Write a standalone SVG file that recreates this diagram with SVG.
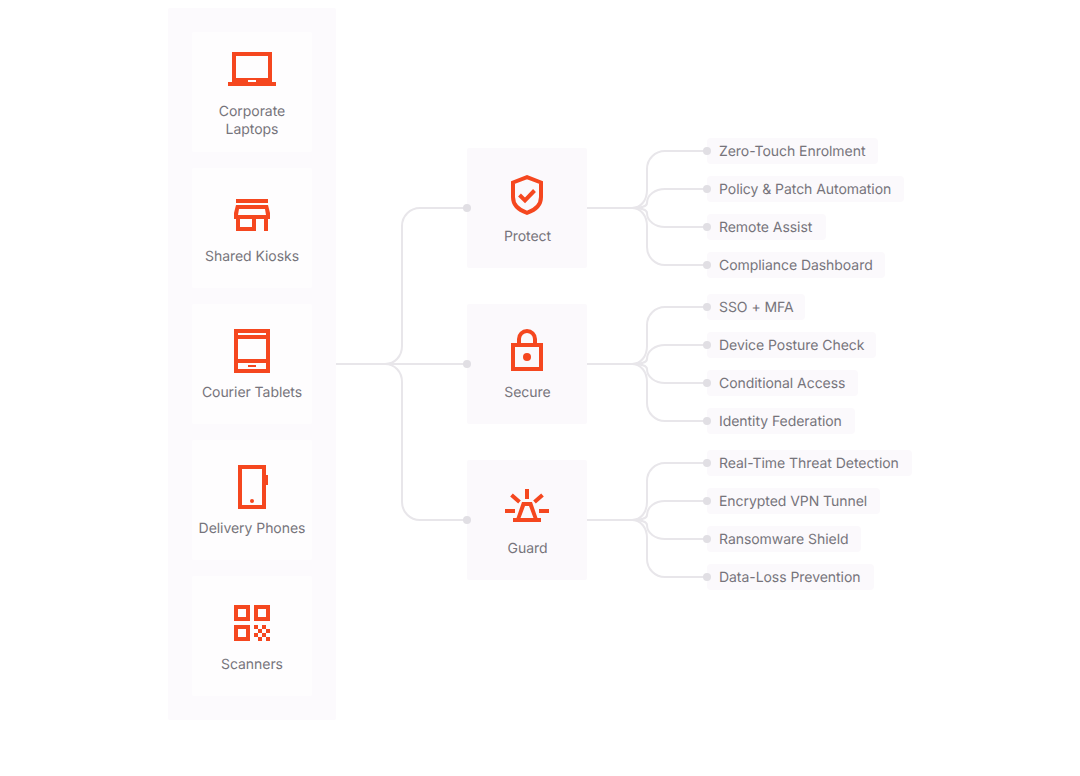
<svg xmlns="http://www.w3.org/2000/svg" width="1080" height="776" viewBox="0 0 1080 776">
<style>
text{font-family:Inter,"Liberation Sans",sans-serif;font-size:14px;fill:#76747b;text-anchor:middle;text-rendering:geometricPrecision;letter-spacing:-0.05px}
.pl text{text-anchor:start}
.card{fill:#fefdfe}
.mid{fill:#fbf9fc}
.pill{fill:#fbf9fc}
.i{fill:#f5471f}
.o{fill:none;stroke:#f5471f;stroke-width:4}
.c{fill:none;stroke:#e8e6ea;stroke-width:2}
.d{fill:#e1dfe4}
</style>
<rect id="panel" x="168" y="8" width="168" height="712" rx="2" fill="#fcfafd"/>
<g id="connectors">
<path class="c" d="M336 364H385"/>
<path class="c" d="M385 364H467"/>
<path class="c" d="M385 364C395 364 402 356 402 346V226C402 216 410 208 420 208H467"/>
<path class="c" d="M385 364C395 364 402 372 402 382V502C402 512 410 520 420 520H467"/>
<path class="c" d="M587 208H632"/><path class="c" d="M632 208C641 208 647 200 647 190V169C647 159 655 151 665 151H707"/><path class="c" d="M632 208C641 208 647 206 647 203C647 195 655 189 665 189H707"/><path class="c" d="M632 208C641 208 647 210 647 213C647 221 655 227 665 227H707"/><path class="c" d="M632 208C641 208 647 216 647 226V247C647 257 655 265 665 265H707"/>
<path class="c" d="M587 364H632"/><path class="c" d="M632 364C641 364 647 356 647 346V325C647 315 655 307 665 307H707"/><path class="c" d="M632 364C641 364 647 362 647 359C647 351 655 345 665 345H707"/><path class="c" d="M632 364C641 364 647 366 647 369C647 377 655 383 665 383H707"/><path class="c" d="M632 364C641 364 647 372 647 382V403C647 413 655 421 665 421H707"/>
<path class="c" d="M587 520H632"/><path class="c" d="M632 520C641 520 647 512 647 502V481C647 471 655 463 665 463H707"/><path class="c" d="M632 520C641 520 647 518 647 515C647 507 655 501 665 501H707"/><path class="c" d="M632 520C641 520 647 522 647 525C647 533 655 539 665 539H707"/><path class="c" d="M632 520C641 520 647 528 647 538V559C647 569 655 577 665 577H707"/>
</g>
<g id="laptops"><rect class="card" x="192" y="32" width="120" height="120" rx="2"/>
<path class="i" fill-rule="evenodd" d="M232 52H272V82H276V86H228V82H232ZM236 56V78H268V56ZM248 80V82H256V80Z"/>
<text x="252" y="116">Corporate</text><text x="252" y="134">Laptops</text></g>
<g id="kiosks"><rect class="card" x="192" y="168" width="120" height="120" rx="2"/>
<path class="i" d="M236 199H268V203H236Z"/>
<path class="i" fill-rule="evenodd" d="M236 205H268L270 213V219H268V231H264V219H256V231H236V219H234V213ZM239 209L238 215H266L265 209ZM240 219V227H252V219Z"/>
<text x="252" y="261">Shared Kiosks</text></g>
<g id="tablets"><rect class="card" x="192" y="304" width="120" height="120" rx="2"/>
<path class="i" fill-rule="evenodd" d="M234 329H270V373H234ZM238 333V335H266V333ZM238 339V359H266V339ZM238 363V369H266V363Z"/><rect class="i" x="248" y="365" width="8" height="2"/>
<text x="252" y="397">Courier Tablets</text></g>
<g id="phones"><rect class="card" x="192" y="440" width="120" height="120" rx="2"/>
<rect class="o" x="240" y="467" width="24" height="40"/><rect class="i" x="266" y="475" width="2" height="10"/><circle class="i" cx="252" cy="501" r="2"/>
<text x="252" y="533">Delivery Phones</text></g>
<g id="scanners"><rect class="card" x="192" y="576" width="120" height="120" rx="2"/>
<rect class="o" x="236" y="607" width="12" height="12"/><rect class="o" x="256" y="607" width="12" height="12"/><rect class="o" x="236" y="627" width="12" height="12"/>
<path class="i" d="M254 625h4v4h-4zM262 625h4v4h-4zM258 629h4v4h-4zM266 629h4v4h-4zM254 633h4v4h-4zM262 633h4v4h-4zM258 637h4v4h-4zM266 637h4v4h-4z"/>
<text x="252" y="669">Scanners</text></g>
<g id="protect"><rect class="mid" x="467" y="148" width="120" height="120" rx="2"/>
<path class="o" d="M527 177.100L541 182.500V197C541 206 534 210.500 527 212.800C520 210.500 513 206 513 197V182.500Z"/><path class="o" d="M519.500 195L525 200.500L534.500 190.500"/>
<text x="527.500" y="241">Protect</text></g>
<g id="secure"><rect class="mid" x="467" y="304" width="120" height="120" rx="2"/>
<rect class="o" x="513" y="345" width="28" height="24"/><path class="o" d="M519 345V339A8 8 0 0 1 535 339V345"/><circle class="i" cx="527" cy="357" r="4"/>
<text x="527.500" y="397">Secure</text></g>
<g id="guard"><rect class="mid" x="467" y="460" width="120" height="120" rx="2"/>
<path class="i" d="M525 489H529V499H525ZM505 509H515V513H505ZM539 509H549V513H539Z"/>
<path class="o" d="M511.500 495L519.500 502M542.500 495L534.500 502"/>
<path class="i" fill-rule="evenodd" d="M522 502H532L537.500 518H541V522H513V518H516.500ZM525 506L520.500 518H533.500L529 506Z"/>
<text x="527.500" y="553">Guard</text></g>
<g class="pl">
<g id="o1"><rect class="pill" x="707" y="138" width="171" height="26" rx="4"/><circle class="d" cx="707" cy="151" r="4"/><text x="719" y="156">Zero-Touch Enrolment</text></g>
<g id="o2"><rect class="pill" x="707" y="176" width="197" height="26" rx="4"/><circle class="d" cx="707" cy="189" r="4"/><text x="719" y="194">Policy &amp; Patch Automation</text></g>
<g id="o3"><rect class="pill" x="707" y="214" width="119" height="26" rx="4"/><circle class="d" cx="707" cy="227" r="4"/><text x="719" y="232">Remote Assist</text></g>
<g id="o4"><rect class="pill" x="707" y="252" width="178" height="26" rx="4"/><circle class="d" cx="707" cy="265" r="4"/><text x="719" y="270">Compliance Dashboard</text></g>
<g id="o5"><rect class="pill" x="707" y="294" width="98" height="26" rx="4"/><circle class="d" cx="707" cy="307" r="4"/><text x="719" y="312">SSO + MFA</text></g>
<g id="o6"><rect class="pill" x="707" y="332" width="169" height="26" rx="4"/><circle class="d" cx="707" cy="345" r="4"/><text x="719" y="350">Device Posture Check</text></g>
<g id="o7"><rect class="pill" x="707" y="370" width="151" height="26" rx="4"/><circle class="d" cx="707" cy="383" r="4"/><text x="719" y="388">Conditional Access</text></g>
<g id="o8"><rect class="pill" x="707" y="408" width="148" height="26" rx="4"/><circle class="d" cx="707" cy="421" r="4"/><text x="719" y="426">Identity Federation</text></g>
<g id="o9"><rect class="pill" x="707" y="450" width="205" height="26" rx="4"/><circle class="d" cx="707" cy="463" r="4"/><text x="719" y="468">Real-Time Threat Detection</text></g>
<g id="o10"><rect class="pill" x="707" y="488" width="173" height="26" rx="4"/><circle class="d" cx="707" cy="501" r="4"/><text x="719" y="506">Encrypted VPN Tunnel</text></g>
<g id="o11"><rect class="pill" x="707" y="526" width="154" height="26" rx="4"/><circle class="d" cx="707" cy="539" r="4"/><text x="719" y="544">Ransomware Shield</text></g>
<g id="o12"><rect class="pill" x="707" y="564" width="167" height="26" rx="4"/><circle class="d" cx="707" cy="577" r="4"/><text x="719" y="582">Data-Loss Prevention</text></g>
</g>
<g id="dots"><circle class="d" cx="467" cy="208" r="4"/><circle class="d" cx="467" cy="364" r="4"/><circle class="d" cx="467" cy="520" r="4"/></g>
</svg>
